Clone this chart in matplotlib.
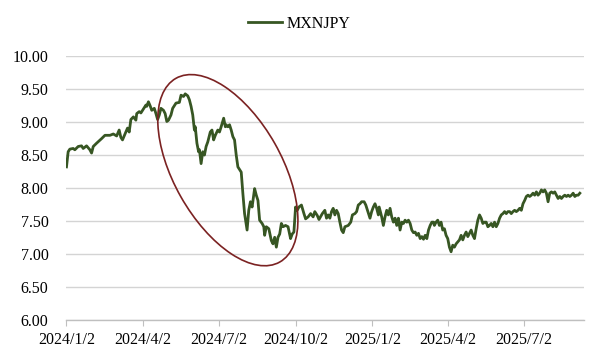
import numpy as np
import pandas as pd
import matplotlib
matplotlib.use("Agg")
import matplotlib.pyplot as plt
import matplotlib.dates as mdates
import matplotlib.transforms as mtransforms
from matplotlib.patches import Ellipse

plt.rcParams['font.family'] = ['Liberation Serif', 'DejaVu Serif']

# days after 2024/1/2 and MXNJPY level
day_offset = [0, 2, 4, 8, 10, 14, 18, 20, 24, 28, 30, 32, 36, 42, 46, 52, 56, 60, 63, 65,
              67, 71, 73, 75, 77, 80, 83, 84, 87, 89, 91, 95, 96, 98, 100, 102, 105, 107, 109, 111,
              113, 116, 118, 120, 122, 125, 127, 131, 135, 137, 140, 142, 145, 147, 149, 151, 153, 154, 156, 158,
              159, 161, 163, 165, 167, 169, 172, 174, 176, 178, 181, 183, 185, 188, 190, 191, 193, 195, 197, 199,
              201, 203, 205, 209, 211, 213, 216, 218, 220, 222, 225, 227, 229, 231, 234, 236, 237, 239, 242, 245,
              247, 249, 251, 253, 255, 257, 259, 262, 265, 268, 270, 272, 274, 276, 278, 281, 284, 286, 289, 292,
              295, 297, 300, 302, 306, 309, 311, 313, 315, 317, 319, 321, 323, 325, 327, 329, 331, 333, 337, 340,
              342, 345, 347, 349, 351, 353, 356, 358, 360, 363, 365, 367, 369, 371, 373, 374, 377, 379, 381, 383,
              385, 387, 389, 391, 393, 395, 397, 399, 401, 403, 405, 407, 409, 411, 413, 415, 417, 419, 421, 423,
              425, 427, 429, 431, 433, 435, 437, 439, 440, 442, 444, 446, 448, 450, 452, 454, 456, 458, 460, 462,
              464, 466, 468, 470, 472, 474, 476, 478, 480, 482, 484, 486, 488, 490, 492, 494, 496, 498, 500, 502,
              504, 506, 508, 510, 512, 514, 516, 518, 520, 522, 524, 526, 528, 530, 532, 534, 536, 538, 540, 542,
              544, 546, 548, 550, 552, 554, 556, 558, 560, 562, 564, 566, 568, 570, 572, 574, 576, 578, 580, 582,
              584, 586, 588, 590, 592, 594, 596, 598, 600, 602, 604, 606, 608, 610, 612, 614]
mxnjpy = [8.32, 8.55, 8.59, 8.60, 8.58, 8.63, 8.64, 8.60, 8.64, 8.58, 8.53, 8.63, 8.68, 8.75, 8.80, 8.80, 8.82, 8.79, 8.88, 8.77,
          8.73, 8.85, 8.91, 8.85, 9.04, 9.08, 9.03, 9.13, 9.16, 9.14, 9.18, 9.26, 9.24, 9.31, 9.25, 9.18, 9.21, 9.13, 9.04, 9.11,
          9.21, 9.18, 9.13, 9.01, 9.03, 9.11, 9.21, 9.29, 9.30, 9.41, 9.39, 9.43, 9.40, 9.34, 9.24, 9.11, 8.88, 8.93, 8.68, 8.55,
          8.58, 8.37, 8.55, 8.50, 8.63, 8.70, 8.85, 8.88, 8.73, 8.80, 8.88, 8.85, 8.93, 9.06, 8.93, 8.96, 8.93, 8.96, 8.88, 8.78,
          8.73, 8.50, 8.32, 8.24, 7.91, 7.61, 7.36, 7.66, 7.79, 7.71, 7.99, 7.89, 7.81, 7.51, 7.46, 7.41, 7.28, 7.41, 7.38, 7.20,
          7.15, 7.25, 7.10, 7.25, 7.30, 7.46, 7.41, 7.43, 7.41, 7.23, 7.30, 7.33, 7.71, 7.66, 7.71, 7.74, 7.61, 7.53, 7.56, 7.61,
          7.56, 7.64, 7.58, 7.52, 7.61, 7.66, 7.54, 7.59, 7.54, 7.64, 7.69, 7.59, 7.66, 7.61, 7.48, 7.36, 7.32, 7.41, 7.43, 7.48,
          7.59, 7.61, 7.64, 7.74, 7.76, 7.79, 7.79, 7.74, 7.66, 7.54, 7.64, 7.71, 7.76, 7.69, 7.59, 7.71, 7.56, 7.43, 7.56, 7.66,
          7.59, 7.69, 7.56, 7.48, 7.54, 7.43, 7.54, 7.36, 7.48, 7.46, 7.51, 7.48, 7.51, 7.46, 7.36, 7.32, 7.33, 7.28, 7.31, 7.23,
          7.26, 7.22, 7.28, 7.23, 7.36, 7.43, 7.48, 7.48, 7.43, 7.48, 7.51, 7.43, 7.48, 7.36, 7.38, 7.28, 7.23, 7.10, 7.03, 7.13,
          7.10, 7.15, 7.18, 7.21, 7.28, 7.21, 7.28, 7.33, 7.26, 7.31, 7.36, 7.28, 7.23, 7.38, 7.51, 7.59, 7.54, 7.46, 7.48, 7.48,
          7.41, 7.43, 7.46, 7.41, 7.48, 7.41, 7.46, 7.54, 7.59, 7.61, 7.64, 7.61, 7.64, 7.64, 7.61, 7.64, 7.66, 7.64, 7.66, 7.69,
          7.66, 7.76, 7.81, 7.87, 7.89, 7.87, 7.89, 7.92, 7.89, 7.94, 7.89, 7.92, 7.97, 7.94, 7.97, 7.92, 7.79, 7.92, 7.94, 7.92,
          7.94, 7.89, 7.84, 7.87, 7.84, 7.87, 7.89, 7.87, 7.89, 7.87, 7.89, 7.92, 7.87, 7.89, 7.89, 7.92]

tick_dates = ['2024-01-02', '2024-04-02', '2024-07-02', '2024-10-02', '2025-01-02', '2025-04-02', '2025-07-02']
tick_labels = ['2024/1/2', '2024/4/2', '2024/7/2', '2024/10/2', '2025/1/2', '2025/4/2', '2025/7/2']
y_ticks = [6.0, 6.5, 7.0, 7.5, 8.0, 8.5, 9.0, 9.5, 10.0]

start = pd.Timestamp('2024-01-02')
dates = start + pd.to_timedelta(day_offset, unit='D')

fig = plt.figure(figsize=(5.99, 3.59), dpi=100)
ax = fig.add_axes([0.111, 0.110, 0.864, 0.733])

line, = ax.plot(dates, mxnjpy, color='#375623', lw=2.0, label='MXNJPY', zorder=3)

ax.set_ylim(6.0, 10.0)
ax.set_yticks(y_ticks)
ax.set_yticklabels(['%.2f' % v for v in y_ticks])
ax.set_xlim(start, start + pd.Timedelta(days=619))
ax.set_xticks(pd.to_datetime(tick_dates))
ax.set_xticklabels(tick_labels)

ax.grid(axis='y', color='#d4d4d4', lw=1.0, zorder=0)
for s in ['top', 'right', 'left']:
    ax.spines[s].set_visible(False)
ax.spines['bottom'].set_color('#bfbfbf')
ax.spines['bottom'].set_linewidth(1.0)
ax.spines['bottom'].set_zorder(1)
ax.tick_params(axis='x', length=4, color='#bfbfbf', pad=5, labelsize=11.5, labelcolor='black')
ax.tick_params(axis='y', length=0, pad=13, labelsize=11.5, labelcolor='black')

# ellipse highlighting the 2024 drop, sized in inches
center_x = mdates.date2num(pd.Timestamp('2024-07-13'))
trans = fig.dpi_scale_trans + mtransforms.ScaledTranslation(center_x, 8.27, ax.transData)
ell = Ellipse((0, 0), width=2.11, height=1.08, angle=-60.5, fill=False,
              edgecolor='#7b2222', lw=1.2, transform=trans, zorder=4)
ax.add_patch(ell)

fig.legend(handles=[line], loc='center', bbox_to_anchor=(0.5, 0.933), frameon=False,
           fontsize=11.5, handlelength=2.1, handletextpad=0.3)

fig.savefig('out.png', dpi=100)
